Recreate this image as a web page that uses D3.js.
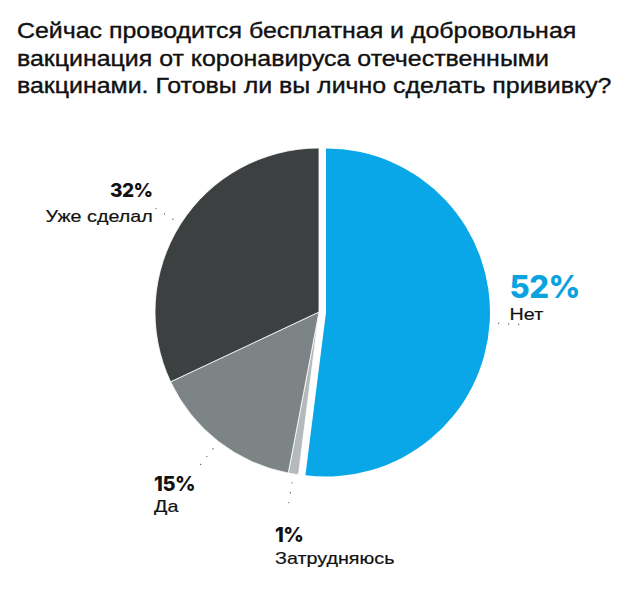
<!DOCTYPE html>
<html>
<head>
<meta charset="utf-8">
<script src="https://cdn.jsdelivr.net/npm/d3@7"></script>
<style>
  body { margin: 0; background: #fff; }
</style>
</head>
<body>
<div id="chart"></div>
<script>
// data
var titleLines = [
  "Сейчас проводится бесплатная и добровольная",
  "вакцинация от коронавируса отечественными",
  "вакцинами. Готовы ли вы лично сделать прививку?"
];
var categories = ["Нет", "Затрудняюсь", "Да", "Уже сделал"];
var values = [52, 1, 15, 32];

var colors = ["#09a7e7", "#b4b9bb", "#7c8486", "#3c4041"];

// label placement: distance from center along slice mid-angle, then nudge
var labelLayout = [
  { dist: 185, dx: -1,  dy: -26, anchor: "start", size: 31, color: "#0aa2df", gap: 22 },
  { dist: 230, dx: -8,  dy: 3,   anchor: "start", size: 20, color: "#111", gap: 22 },
  { dist: 225, dx: -27, dy: 1,   anchor: "start", size: 20, color: "#111", gap: 21 },
  { dist: 197, dx: 0,   dy: -9,  anchor: "end",   size: 19, color: "#111", gap: 25 }
];

var w = 640, h = 612;
var cx = 319, cy = 312;
var r = 164;
var explode = 7;
var stretch = 1.16;   // the source type is wider than Liberation Sans

var svg = d3.select("#chart")
  .append("svg")
  .attr("width", w)
  .attr("height", h);

// title
svg.append("g")
  .selectAll("text")
  .data(titleLines)
  .enter()
  .append("text")
  .attr("transform", function(d, i){
    return "translate(17," + (38 + i * 27.5) + ") scale(" + stretch + ",1)";
  })
  .attr("font-family", "Liberation Sans, Arial, sans-serif")
  .attr("font-size", 21.5)
  .attr("fill", "#111")
  .attr("stroke", "#111")
  .attr("stroke-width", 0.35)
  .text(function(d){ return d; });

var pie = d3.pie().sort(null).value(function(d){ return d; });
var arcs = pie(values);

var arc = d3.arc().innerRadius(0).outerRadius(r);

function midAngle(d){ return (d.startAngle + d.endAngle) / 2; }

// offset of each slice (only the first one is pulled out)
function offset(d, i){
  var a = midAngle(d);
  var k = i === 0 ? explode : 0;
  return [Math.sin(a) * k, -Math.cos(a) * k];
}

var g = svg.append("g").attr("transform", "translate(" + cx + "," + cy + ")");

g.selectAll("path")
  .data(arcs)
  .enter()
  .append("path")
  .attr("d", arc)
  .attr("transform", function(d, i){
    var o = offset(d, i);
    return "translate(" + o[0] + "," + o[1] + ")";
  })
  .attr("fill", function(d, i){ return colors[i]; })
  .attr("stroke", "#fff")
  .attr("stroke-width", function(d, i){ return i === 0 ? 0 : 0.8; });

// dotted leaders
g.selectAll("line.leader")
  .data(arcs)
  .enter()
  .append("line")
  .attr("class", "leader")
  .attr("x1", function(d, i){ return offset(d, i)[0] + Math.sin(midAngle(d)) * (r + 9); })
  .attr("y1", function(d, i){ return offset(d, i)[1] - Math.cos(midAngle(d)) * (r + 9); })
  .attr("x2", function(d, i){ return offset(d, i)[0] + Math.sin(midAngle(d)) * (r + 30); })
  .attr("y2", function(d, i){ return offset(d, i)[1] - Math.cos(midAngle(d)) * (r + 30); })
  .attr("stroke", "#666")
  .attr("stroke-width", 1.4)
  .attr("stroke-linecap", "round")
  .attr("stroke-dasharray", "0,10");

// labels
var labels = g.selectAll("g.label")
  .data(arcs)
  .enter()
  .append("g")
  .attr("class", "label")
  .attr("transform", function(d, i){
    var L = labelLayout[i];
    var o = offset(d, i);
    var x = o[0] + Math.sin(midAngle(d)) * L.dist + L.dx;
    var y = o[1] - Math.cos(midAngle(d)) * L.dist + L.dy;
    return "translate(" + x + "," + y + ")";
  });

labels.append("text")
  .attr("text-anchor", function(d, i){ return labelLayout[i].anchor; })
  .attr("font-family", "Inter, Lato, sans-serif")
  .attr("font-weight", 800)
  .attr("font-size", function(d, i){ return labelLayout[i].size; })
  .attr("letter-spacing", -0.5)
  .attr("fill", function(d, i){ return labelLayout[i].color; })
  .text(function(d){ return d.data + "%"; });

labels.append("text")
  .attr("text-anchor", function(d, i){ return labelLayout[i].anchor; })
  .attr("transform", function(d, i){
    return "translate(0," + labelLayout[i].gap + ") scale(" + stretch + ",1)";
  })
  .attr("font-family", "Liberation Sans, Arial, sans-serif")
  .attr("font-size", 17)
  .attr("fill", "#111")
  .attr("stroke", "#111")
  .attr("stroke-width", 0.2)
  .text(function(d, i){ return categories[i]; });
</script>
</body>
</html>
